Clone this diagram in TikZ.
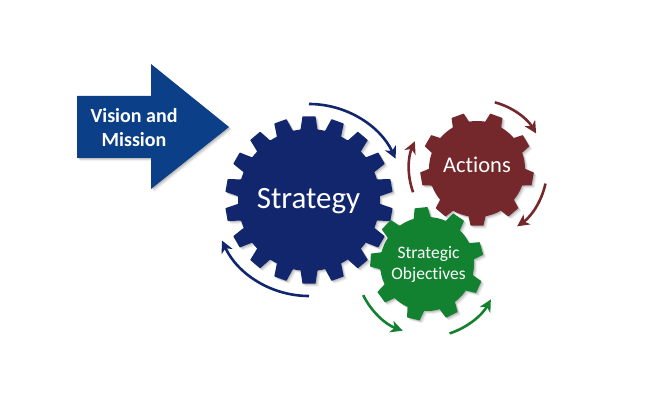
\documentclass[tikz,border=0pt]{standalone}
\usepackage{fontspec}
\setmainfont[Ligatures=NoCommon]{Carlito}
\usetikzlibrary{arrows.meta}
\definecolor{arrowblue}{HTML}{0B3F87}
\definecolor{gearblue}{HTML}{12266E}
\definecolor{gearred}{HTML}{75282B}
\definecolor{geargreen}{HTML}{128230}
\tikzset{
  turn/.style={line width=2.6pt,-{Stealth[length=12pt,width=12pt,inset=3.5pt]}},
  label/.style={text=white,align=center,inner sep=0pt,font=\bfseries}
}
% #1 centre, #2 teeth, #3 first tooth angle, #4 root radius, #5 tip radius, #6 colour
\newcommand\gearshape[6]{%
  \pgfmathsetmacro\pp{360/#2}%
  \pgfmathsetmacro\wr{asin(8.5/#4)}%
  \pgfmathsetmacro\wo{asin(6.5/#5)}%
  \pgfmathsetmacro\last{#2-1}%
  \foreach \dx/\dy/\op in {1/-1/.12,2/-2/.10,3/-3/.06}{%
    \begin{scope}[shift={(#1)},xshift=\dx pt,yshift=\dy pt]
      \fill[black,opacity=\op,rounded corners=.5pt] (#3-\wr:#4)
        \foreach \i [evaluate=\i as \a using #3+\i*\pp] in {0,...,\last}{
          -- (\a-\wr:#4) -- (\a-\wo:#5) -- (\a+\wo:#5) -- (\a+\wr:#4)
          arc[start angle=\a+\wr,delta angle=\pp-2*\wr,radius=#4]
        } -- cycle;
    \end{scope}}%
  \begin{scope}[shift={(#1)}]
    \fill[#6,rounded corners=.5pt] (#3-\wr:#4)
      \foreach \i [evaluate=\i as \a using #3+\i*\pp] in {0,...,\last}{
        -- (\a-\wr:#4) -- (\a-\wo:#5) -- (\a+\wo:#5) -- (\a+\wr:#4)
        arc[start angle=\a+\wr,delta angle=\pp-2*\wr,radius=#4]
      } -- cycle;
  \end{scope}%
}
\begin{document}
\begin{tikzpicture}[x=1pt,y=1pt]
\useasboundingbox (0,0) rectangle (656,-417);
\coordinate (cs) at (309,-200);
\coordinate (ca) at (477,-169);
\coordinate (co) at (427,-264);
% big arrow
\foreach \d/\op in {1/.12,2/.10,3/.06}{
  \fill[black,opacity=\op,xshift=\d pt,yshift=-\d pt]
    (77,-96) -- (151,-96) -- (151,-64) -- (229,-127) -- (151,-189) -- (151,-158) -- (77,-158) -- cycle;
}
\fill[arrowblue] (77,-96) -- (151,-96) -- (151,-64) -- (229,-127) -- (151,-189) -- (151,-158) -- (77,-158) -- cycle;
\node[label,font=\bfseries\fontsize{20}{24}\selectfont] (vm) at (134,-127.5) {Vision and\\Mission};
% gears
\gearshape{cs}{18}{90}{71}{84}{gearblue}
\gearshape{ca}{9}{-90}{48}{57}{gearred}
\gearshape{co}{9}{96}{47}{57}{geargreen}
\node[text=white,inner sep=0pt,font=\fontsize{31}{36}\selectfont] (strategy) at (308.5,-201) {Strategy};
\node[text=white,inner sep=0pt,font=\fontsize{22.5}{26}\selectfont] (actions) at (477,-165) {Actions};
\node[text=white,align=center,inner sep=0pt,font=\fontsize{17.5}{21}\selectfont] (objectives) at (428.5,-264.5) {Strategic\\Objectives};
% rotation arcs
\draw[turn,gearblue] ([shift={(cs)}]90:96) arc[start angle=90,end angle=25.5,radius=96];
\draw[turn,gearblue] ([shift={(cs)}]270:96) arc[start angle=270,end angle=205,radius=96];
\draw[turn,gearred] ([shift={(ca)}]75:69) arc[start angle=75,end angle=31,radius=69];
\draw[turn,gearred] ([shift={(ca)}]-12:70) arc[start angle=-12,end angle=-55,radius=70];
\draw[turn,gearred] ([shift={(ca)}]200:68) arc[start angle=200,end angle=156,radius=68];
\draw[turn,geargreen] ([shift={(co)}]206:71) arc[start angle=206,end angle=250,radius=71];
\draw[turn,geargreen] ([shift={(co)}]-72:73) arc[start angle=-72,end angle=-29,radius=73];
\end{tikzpicture}
\end{document}
